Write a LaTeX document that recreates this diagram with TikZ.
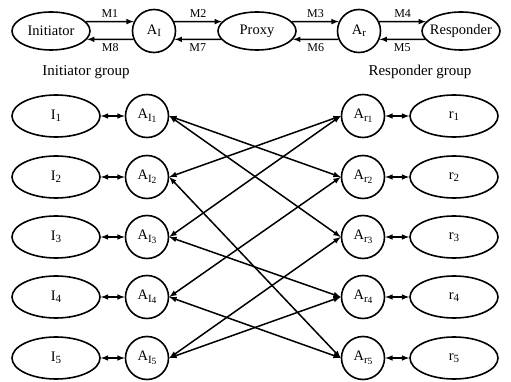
\documentclass[tikz,border=0pt]{standalone}
\usepackage{fontspec}
\setmainfont{Liberation Serif}
\usepackage{tikz}
\usetikzlibrary{shapes, arrows}
\usetikzlibrary{positioning}
\newcommand{\lowsub}[1]{\raisebox{-0.35ex}{\fontsize{11}{11}\selectfont #1}}
\newcommand{\lowsubb}[1]{\raisebox{-0.3ex}{\fontsize{9.5}{10}\selectfont #1}}
\tikzstyle{party} = [ellipse, minimum width = 78, minimum height = 38,
  inner sep = 0, inner xsep = -6pt, draw = black, line width = 1.6pt,
  text centered]
\tikzstyle{member} = [
  ellipse, minimum width = 88, minimum height = 42,
  inner sep = 0, draw = black, line width = 1.6pt, text centered
]
\tikzstyle{agent} = [circle, minimum size = 43, inner sep = 0, draw =
  black, line width = 1.6pt, text centered]
\tikzstyle{msg} = [->, >=latex, line width = 1.5pt]
\tikzstyle{link} = [<->, >=latex, line width = 1.5pt]
\tikzstyle{mlabel} = [font = \fontsize{12}{14}\selectfont]

\begin{document}
\begin{tikzpicture}[x = 1pt, y = -1pt, font = \fontsize{14.5}{16}\selectfont]
      \useasboundingbox (0, 0) rectangle (511, 382);

      \node [party] (init) at (51, 31) {Initiator};
      \node [agent] (a-i) at (154, 31) {A\lowsub{I}};
      \node [party] (proxy) at (257, 31) {Proxy};
      \node [agent] (a-r) at (359, 31) {A\lowsub{r}};
      \node [party] (resp) at (461, 31) {Responder};

      \draw [msg] (init.15) -- node [mlabel, above] {M1} (a-i.155);
      \draw [msg] (a-i.25) -- node [mlabel, above] {M2} (proxy.165);
      \draw [msg] (proxy.15) -- node [mlabel, above] {M3} (a-r.155);
      \draw [msg] (a-r.25) -- node [mlabel, above] {M4} (resp.165);
      \draw [msg] (resp.193) -- node [mlabel, below] {M5} (a-r.338);
      \draw [msg] (a-r.202) -- node [mlabel, below] {M6} (proxy.347);
      \draw [msg] (proxy.193) -- node [mlabel, below] {M7} (a-i.338);
      \draw [msg] (a-i.202) -- node [mlabel, below] {M8} (init.347);

      \node [font = \fontsize{15}{18}\selectfont] (init-group) at (86, 72)
      {Initiator group};
      \node [font = \fontsize{15}{18}\selectfont] (resp-group) at (420, 72)
      {Responder group};

      \foreach \k/\y in {1/116, 2/177, 3/237, 4/297, 5/358} {
        \node [member] (i-\k) at (56, \y) {I\lowsub{\k}};
        \node [agent] (ai-\k) at (147, \y) {A\lowsub{I\lowsubb{\k}}};
        \node [agent] (ar-\k) at (363, \y) {A\lowsub{r\lowsubb{\k}}};
        \node [member] (r-\k) at (454, \y) {r\lowsub{\k}};
        \draw [link] (i-\k.east) -- (ai-\k.west);
        \draw [link] (ar-\k.east) -- (r-\k.west);
      }

      \draw [link] (ai-1.east) -- (ar-2.west);
      \draw [link] (ai-1.east) -- (ar-3.west);
      \draw [link] (ai-2.east) -- (ar-1.west);
      \draw [link] (ai-2.east) -- (ar-5.west);
      \draw [link] (ai-3.east) -- (ar-1.west);
      \draw [link] (ai-3.east) -- (ar-4.west);
      \draw [link] (ai-4.east) -- (ar-2.west);
      \draw [link] (ai-4.east) -- (ar-5.west);
      \draw [link] (ai-5.east) -- (ar-3.west);
      \draw [link] (ai-5.east) -- (ar-4.west);
    \end{tikzpicture}
\end{document}
